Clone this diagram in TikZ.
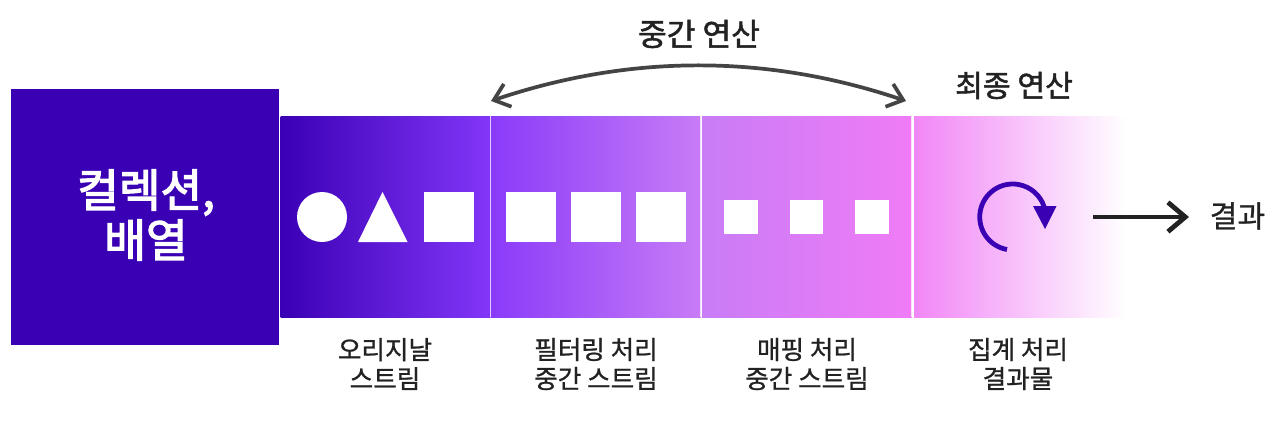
\documentclass[tikz,border=0pt]{standalone}
\usepackage{fontspec}
\setmainfont{Noto Sans CJK KR}
\newfontfamily\krmed[FakeBold=0.9]{Noto Sans CJK KR}
\newfontfamily\krsemi[FakeBold=1.6]{Noto Sans CJK KR}
\newfontfamily\krheavy[FakeBold=2.8]{Noto Sans CJK KR}
\usetikzlibrary{arrows.meta,positioning,shapes.geometric}
\definecolor{deep}{HTML}{3A00B3}
\definecolor{pa}{HTML}{3A00B5}
\definecolor{pb}{HTML}{8336F8}
\definecolor{pc}{HTML}{8A3BF9}
\definecolor{pd}{HTML}{C87CF6}
\definecolor{pe}{HTML}{F07CF6}
\definecolor{ink}{HTML}{222222}
\definecolor{arcink}{HTML}{444444}
\tikzset{
  px/.style={x=0.75pt,y=-0.75pt},
  panel/.style={minimum width=157.5pt,minimum height=151pt,inner sep=0pt,outer sep=0pt,anchor=north west},
  wsq/.style={fill=white,draw=none,inner sep=0pt,outer sep=0pt,minimum size=37.5pt},
  ssq/.style={fill=white,draw=none,inner sep=0pt,outer sep=0pt,minimum size=25pt},
  caplabel/.style={align=center,inner sep=0pt,text=ink,font=\krmed\fontsize{19.2}{21.8}\selectfont},
  headlabel/.style={inner sep=0pt,text=ink,font=\krsemi\fontsize{23.4}{26}\selectfont},
  sepline/.style={draw=white,line width=0.9pt,opacity=0.75},
}
\begin{document}
\begin{tikzpicture}[px]
\useasboundingbox (0,0) rectangle (1280,428);
\fill[white] (0,0) rectangle (1280,428);
% collection block
\node[fill=deep,inner sep=0pt,outer sep=0pt,minimum width=201pt,minimum height=192pt,anchor=north west] (coll) at (11,89) {};
\node[inner sep=0pt,align=center,text=white,font=\krheavy\fontsize{34}{37.5}\selectfont] (colltext) at (146,215) {컬렉션,\\배열};
% gradient panels
\node[panel,left color=pa,right color=pb] (p1) at (280.5,116) {};
\node[panel,left color=pc,right color=pd] (p2) at (491,116) {};
\node[panel,left color=pd,right color=pe] (p3) at (702,116) {};
\node[panel,minimum width=159pt,left color=pe!92!white,right color=white] (p4) at (914,116) {};
\draw[sepline] (p1.north east) -- (p1.south east);
\draw[sepline] (p2.north east) -- (p2.south east);
\draw[sepline] (p3.north east) -- (p3.south east);
% shapes
\node[circle,wsq] (circ) at (322,217) {};
\fill[white] (382.5,192) -- (407.5,242) -- (358,242) -- cycle;
\node[wsq] (sq0) at (449,217) {};
\node[wsq] (sq1) at (531,217) {};
\node[wsq] (sq2) at (596,217) {};
\node[wsq] (sq3) at (661,217) {};
\node[ssq] (s1) at (741,217) {};
\node[ssq] (s2) at (806.5,217) {};
\node[ssq] (s3) at (872,217) {};
% circular arrow
\draw[deep,line width=3.6pt,line cap=butt] (1007,249.5) arc[start angle=100,end angle=342,radius=33];
\fill[deep] (1033,206) -- (1056.5,206) -- (1045,229) -- cycle;
% headings
\node[headlabel] (mid) at (699,34) {중간 연산};
\node[headlabel,font=\krsemi\fontsize{22.6}{26}\selectfont] (fin) at (1014,85.5) {최종 연산};
\coordinate (arcL) at (491,101);
\coordinate (arcR) at (906,101);
\draw[arcink,line width=2.8pt,{Straight Barb[length=11pt,width=18pt,line width=2.8pt]}-{Straight Barb[length=11pt,width=18pt,line width=2.8pt]}]
  (arcL) .. controls (630,54) and (767,54) .. (arcR);
% result arrow
\coordinate (astart) at (1093,217);
\node[inner sep=0pt,text=ink,font=\krmed\fontsize{22.6}{26}\selectfont] (res) at (1237.5,216) {결과};
\coordinate (aend) at (1189,217);
\draw[ink,line width=3.6pt,-{Straight Barb[length=13pt,width=22pt,line width=3.6pt]}] (astart) -- (aend);
% captions
\node[caplabel] (c1) at (385,364) {오리지날\\스트림};
\node[caplabel] (c2) at (596,364) {필터링 처리\\중간 스트림};
\node[caplabel] (c3) at (807,364) {매핑 처리\\중간 스트림};
\node[caplabel] (c4) at (1018,364) {집계 처리\\결과물};
\end{tikzpicture}
\end{document}
